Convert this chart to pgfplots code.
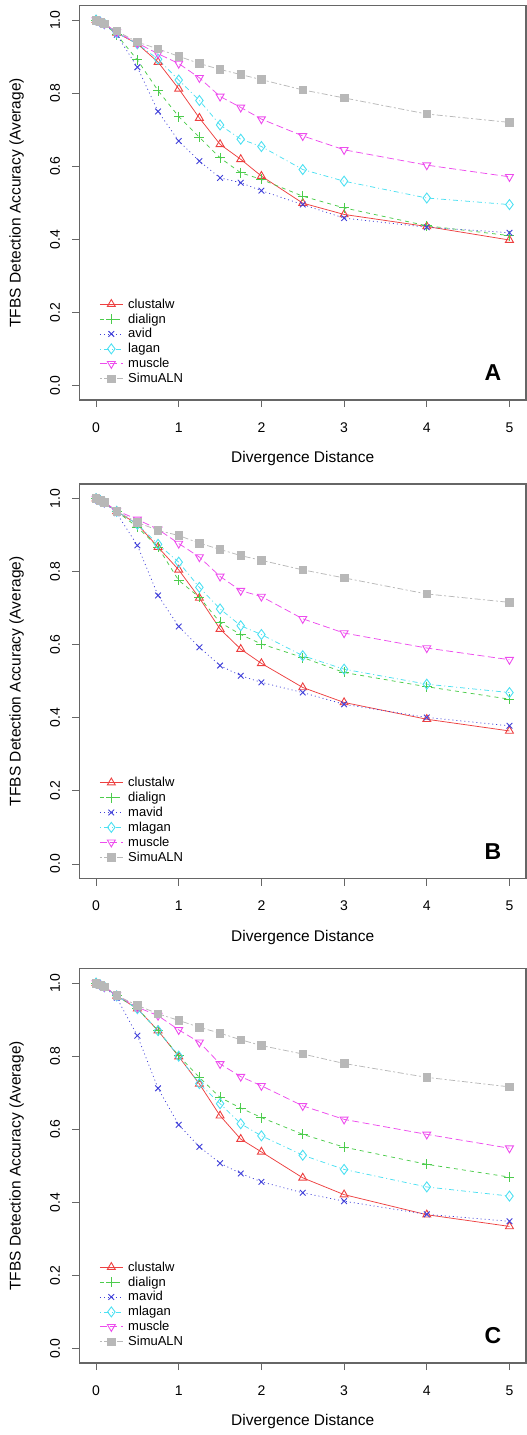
\documentclass[border=0pt]{standalone}
\usepackage{fontspec}
\setmainfont{Liberation Sans}
\usepackage{pgfplots}
\usepackage{pgfplotstable}
\pgfplotsset{compat=1.18}
\definecolor{cR}{rgb}{0.93,0.25,0.25}
\definecolor{cG}{rgb}{0.30,0.80,0.30}
\definecolor{cB}{rgb}{0.25,0.25,0.85}
\definecolor{cC}{rgb}{0.30,0.88,0.95}
\definecolor{cM}{rgb}{0.93,0.30,0.93}
\definecolor{cS}{rgb}{0.72,0.72,0.72}

\pgfplotstableread{
x    c1    c2    c3    c4    c5    c6
0    1.000 1.000 1.000 1.000 1.000 1.000
0.05 0.995 0.995 0.995 0.995 0.995 0.995
0.1  0.990 0.990 0.990 0.990 0.990 0.990
0.25 0.965 0.960 0.960 0.965 0.967 0.970
0.5  0.935 0.891 0.871 0.935 0.937 0.940
0.75 0.885 0.807 0.750 0.893 0.908 0.921
1    0.812 0.736 0.669 0.836 0.881 0.901
1.25 0.732 0.679 0.614 0.780 0.842 0.881
1.5  0.660 0.623 0.568 0.713 0.791 0.865
1.75 0.619 0.582 0.555 0.674 0.761 0.851
2    0.573 0.564 0.533 0.654 0.729 0.837
2.5  0.499 0.518 0.495 0.591 0.683 0.809
3    0.468 0.486 0.458 0.559 0.645 0.787
4    0.435 0.437 0.433 0.513 0.603 0.743
5    0.398 0.410 0.418 0.495 0.571 0.720
}\tabA
\pgfplotstableread{
x    c1    c2    c3    c4    c5    c6
0    1.000 1.000 1.000 1.000 1.000 1.000
0.05 0.995 0.995 0.995 0.995 0.995 0.995
0.1  0.990 0.990 0.990 0.990 0.990 0.990
0.25 0.965 0.965 0.960 0.965 0.967 0.965
0.5  0.930 0.922 0.872 0.930 0.943 0.935
0.75 0.867 0.867 0.735 0.875 0.916 0.913
1    0.805 0.776 0.650 0.826 0.877 0.899
1.25 0.728 0.730 0.593 0.757 0.840 0.878
1.5  0.643 0.661 0.543 0.698 0.787 0.861
1.75 0.588 0.628 0.515 0.652 0.748 0.844
2    0.549 0.602 0.497 0.628 0.732 0.831
2.5  0.483 0.565 0.469 0.570 0.671 0.805
3    0.442 0.524 0.437 0.533 0.632 0.783
4    0.396 0.485 0.401 0.492 0.591 0.739
5    0.364 0.451 0.378 0.469 0.559 0.716
}\tabB
\pgfplotstableread{
x    c1    c2    c3    c4    c5    c6
0    1.000 1.000 1.000 1.000 1.000 1.000
0.05 0.995 0.995 0.995 0.995 0.995 0.995
0.1  0.990 0.990 0.990 0.990 0.990 0.990
0.25 0.965 0.965 0.960 0.965 0.967 0.966
0.5  0.930 0.930 0.856 0.930 0.934 0.939
0.75 0.870 0.870 0.712 0.870 0.911 0.916
1    0.799 0.801 0.612 0.800 0.872 0.898
1.25 0.724 0.742 0.552 0.725 0.838 0.879
1.5  0.637 0.687 0.507 0.670 0.779 0.863
1.75 0.573 0.658 0.479 0.615 0.744 0.845
2    0.538 0.632 0.456 0.582 0.719 0.829
2.5  0.467 0.586 0.426 0.529 0.664 0.806
3    0.421 0.551 0.403 0.490 0.627 0.780
4    0.366 0.504 0.367 0.442 0.586 0.742
5    0.334 0.469 0.348 0.417 0.548 0.716
}\tabC

\pgfplotsset{
  panel/.style={
    width=446.5pt, height=394.5pt, scale only axis,
    xmin=-0.2, xmax=5.2, ymin=-0.04, ymax=1.04,
    xtick={0,1,2,3,4,5}, ytick={0,0.2,0.4,0.6,0.8,1.0},
    tick align=outside, major tick length=7pt,
    xtick pos=left, ytick pos=left,
    axis line style={draw=black!60, line width=1.1pt},
    tick style={draw=black!60, line width=0.8pt},
    /pgf/number format/assume math mode=true,
    ticklabel style={font=\fontsize{14}{16}\selectfont},
    xticklabel shift=12pt,
    yticklabel shift=9pt,
    yticklabel style={rotate=90, anchor=south, /pgf/number format/.cd, fixed, fixed zerofill, precision=1},
    xticklabel style={/pgf/number format/.cd, fixed},
    label style={font=\fontsize{15.5}{18}\selectfont},
    xlabel={Divergence Distance},
    ylabel={TFBS Detection Accuracy (Average)},
    xlabel style={at={(axis description cs:0.5,-0.149)}, anchor=center},
    ylabel style={at={(axis description cs:-0.141,0.5)}, anchor=center},
    legend cell align=left,
    legend style={draw=none, fill=none, font=\fontsize{13}{15}\selectfont,
      at={(axis description cs:0.042,0.032)}, anchor=south west,
      row sep=0pt, column sep=3pt, inner sep=1pt},
    legend image code/.code={%
      \draw[mark repeat=2,mark phase=2] plot coordinates {(0pt,0pt) (11.5pt,0pt) (23pt,0pt)};},
    every axis plot/.append style={line width=0.75pt},
  },
  sc1/.style={draw=cR, solid, mark=triangle, mark size=4.6pt, mark options={solid, draw=cR, fill=none, line width=0.9pt}},
  sc2/.style={draw=cG, dash pattern=on 4pt off 4pt, mark=+, mark size=5pt, mark options={solid, draw=cG, line width=0.9pt}},
  sc3/.style={draw=cB, dash pattern=on 1pt off 3pt, mark=x, mark size=4pt, mark options={solid, draw=cB, line width=0.9pt}},
  sc4/.style={draw=cC, dash pattern=on 1pt off 3pt on 5pt off 3pt, mark=diamond, mark size=5pt, mark options={solid, draw=cC, fill=none, line width=0.9pt}},
  sc5/.style={draw=cM, dash pattern=on 7pt off 3.5pt, mark=triangle, mark size=4.6pt, mark options={solid, rotate=180, draw=cM, fill=none, line width=0.9pt}},
  sc6/.style={draw=cS, dash pattern=on 2pt off 2.5pt on 6pt off 2.5pt, mark=square*, mark size=3.8pt, mark options={solid, fill=cS, draw=cS}},
}

\begin{document}
\begin{tikzpicture}
\useasboundingbox (0,0) rectangle (527pt,-1435pt);
% Panel A
\begin{axis}[panel, at={(79.5pt,-400pt)}, anchor=south west]
\addplot[sc1] table[x=x,y=c1]{\tabA}; \addlegendentry{clustalw}
\addplot[sc2] table[x=x,y=c2]{\tabA}; \addlegendentry{dialign}
\addplot[sc3] table[x=x,y=c3]{\tabA}; \addlegendentry{avid}
\addplot[sc4] table[x=x,y=c4]{\tabA}; \addlegendentry{lagan}
\addplot[sc5] table[x=x,y=c5]{\tabA}; \addlegendentry{muscle}
\addplot[sc6] table[x=x,y=c6]{\tabA}; \addlegendentry{SimuALN}
\node[font=\bfseries\fontsize{23}{23}\selectfont] at (axis cs:4.8,0.035) {A};
\end{axis}
% Panel B
\begin{axis}[panel, at={(79.5pt,-878.5pt)}, anchor=south west]
\addplot[sc1] table[x=x,y=c1]{\tabB}; \addlegendentry{clustalw}
\addplot[sc2] table[x=x,y=c2]{\tabB}; \addlegendentry{dialign}
\addplot[sc3] table[x=x,y=c3]{\tabB}; \addlegendentry{mavid}
\addplot[sc4] table[x=x,y=c4]{\tabB}; \addlegendentry{mlagan}
\addplot[sc5] table[x=x,y=c5]{\tabB}; \addlegendentry{muscle}
\addplot[sc6] table[x=x,y=c6]{\tabB}; \addlegendentry{SimuALN}
\node[font=\bfseries\fontsize{23}{23}\selectfont] at (axis cs:4.8,0.035) {B};
\end{axis}
% Panel C
\begin{axis}[panel, at={(79.5pt,-1363pt)}, anchor=south west]
\addplot[sc1] table[x=x,y=c1]{\tabC}; \addlegendentry{clustalw}
\addplot[sc2] table[x=x,y=c2]{\tabC}; \addlegendentry{dialign}
\addplot[sc3] table[x=x,y=c3]{\tabC}; \addlegendentry{mavid}
\addplot[sc4] table[x=x,y=c4]{\tabC}; \addlegendentry{mlagan}
\addplot[sc5] table[x=x,y=c5]{\tabC}; \addlegendentry{muscle}
\addplot[sc6] table[x=x,y=c6]{\tabC}; \addlegendentry{SimuALN}
\node[font=\bfseries\fontsize{23}{23}\selectfont] at (axis cs:4.8,0.035) {C};
\end{axis}
\end{tikzpicture}
\end{document}
